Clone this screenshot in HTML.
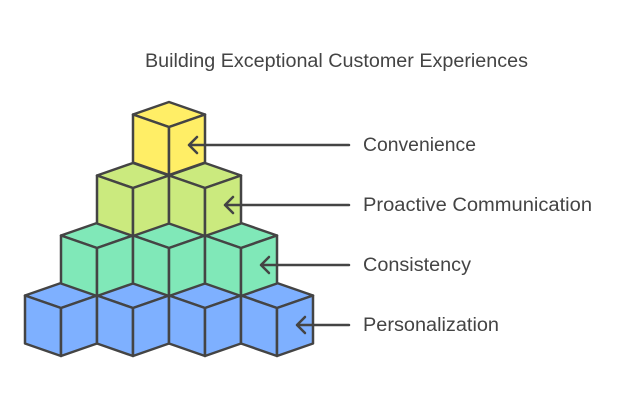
<!DOCTYPE html>
<html><head><meta charset="utf-8"><style>
html,body{margin:0;padding:0;background:#fff;width:626px;height:404px;overflow:hidden}
text{font-family:"Liberation Sans",sans-serif;fill:#444}
</style></head><body>
<svg id="s" width="626" height="404" viewBox="0 0 626 404" xmlns="http://www.w3.org/2000/svg">
<text x="145" y="67" font-size="19" textLength="383" lengthAdjust="spacingAndGlyphs">Building Exceptional Customer Experiences</text>
<g id="cubes" stroke="#444" stroke-width="2.5" stroke-linejoin="round"></g>
<g stroke="#444" stroke-width="2.5" fill="none" stroke-linecap="round" stroke-linejoin="round">
<path d="M349 145H189M197 137l-8 8 8 8"/>
<path d="M349 205H225M233 197l-8 8 8 8"/>
<path d="M349 265H261M269 257l-8 8 8 8"/>
<path d="M349 325H297M305 317l-8 8 8 8"/>
</g>
<text x="363" y="151" font-size="19" textLength="113" lengthAdjust="spacingAndGlyphs">Convenience</text>
<text x="363" y="211" font-size="19" textLength="229" lengthAdjust="spacingAndGlyphs">Proactive Communication</text>
<text x="363" y="271" font-size="19" textLength="108" lengthAdjust="spacingAndGlyphs">Consistency</text>
<text x="363" y="331" font-size="19" textLength="136" lengthAdjust="spacingAndGlyphs">Personalization</text>
</svg>
<script>
var g=document.getElementById('cubes');
var rows=[{y:283,xs:[61,133,205,277],c:'#7EB0FF'},{y:223,xs:[97,169,241],c:'#80E8B8'},{y:163,xs:[133,205],c:'#CBEA7E'},{y:102,xs:[169],c:'#FFEE66'}];
var h='';
rows.forEach(function(r){r.xs.forEach(function(x){var y=r.y;
h+='<polygon fill="'+r.c+'" points="'+x+','+y+' '+(x+36)+','+(y+12.5)+' '+x+','+(y+25)+' '+(x-36)+','+(y+12.5)+'"/>';
h+='<polygon fill="'+r.c+'" points="'+(x-36)+','+(y+12.5)+' '+x+','+(y+25)+' '+x+','+(y+73)+' '+(x-36)+','+(y+60.5)+'"/>';
h+='<polygon fill="'+r.c+'" points="'+(x+36)+','+(y+12.5)+' '+x+','+(y+25)+' '+x+','+(y+73)+' '+(x+36)+','+(y+60.5)+'"/>';
});});
g.innerHTML=h;
</script>
</body></html>
